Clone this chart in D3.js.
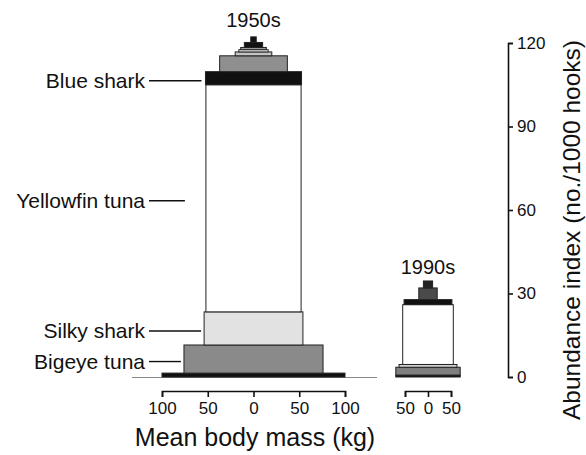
<!DOCTYPE html>
<html><head><meta charset="utf-8">
<script src="https://cdn.jsdelivr.net/npm/d3@7"></script>
<style>
body{margin:0;background:#fff}
svg{display:block}
text{font-family:"Liberation Sans",Arial,Helvetica,sans-serif;fill:#111}
</style>
</head><body>
<svg id="c" width="586" height="455"></svg>
<script>
// ---- data (layers listed bottom-up) ----
const decades = ["1950s","1990s"];
const layers1950 = ["Other A","Bigeye tuna","Silky shark","Yellowfin tuna","Blue shark","Other B","Other C","Other D","Other E","Other F","Other G"];
const abundance1950 = [1.4,10.1,11.9,81.6,4.7,5.7,1.4,0.8,0.8,1.8,2.0];
const mass1950 = [100,76,54,52,52.5,37,20,16,14,10,3];
const layers1990 = ["Other A","Bigeye tuna","Silky shark","Yellowfin tuna","Blue shark","Other B","Other F"];
const abundance1990 = [0.7,2.8,1.0,21.5,1.8,4.2,2.5];
const mass1990 = [70,70,63,55,52,20,10];
const labelled = ["Blue shark","Yellowfin tuna","Silky shark","Bigeye tuna"];
const yTicks = [0,30,60,90,120];
const xTicks1950 = [-100,-50,0,50,100];
const xTicks1990 = [-50,0,50];

// ---- styles ----
const fill1950 = ["#111","#8a8a8a","#e2e2e2","#fff","#111","#8f8f8f","#c4c4c4","#fff","#9a9a9a","#111","#111"];
const fill1990 = ["#111","#7f7f7f","#d0d0d0","#fff","#111","#4a4a4a","#222"];

const svg = d3.select("#c");
const y = d3.scaleLinear().domain([0,120]).range([377,43]);
const x1 = d3.scaleLinear().domain([-100,100]).range([162,345]);
const x2 = d3.scaleLinear().domain([-50,50]).range([405,451]);

function drawStack(xs, abund, mass, fills){
  const cum = Array.from(d3.cumsum(abund));
  const g = svg.append("g");
  g.selectAll("rect").data(abund).join("rect")
    .attr("x",(d,i)=>xs(-mass[i]))
    .attr("width",(d,i)=>xs(mass[i])-xs(-mass[i]))
    .attr("y",(d,i)=>y(cum[i]))
    .attr("height",(d,i)=>y(cum[i]-d)-y(cum[i]))
    .attr("fill",(d,i)=>fills[i])
    .attr("stroke","#222").attr("stroke-width",1);
  return cum;
}

// baseline
svg.append("line").attr("x1",132).attr("x2",377).attr("y1",y(0)+0.5).attr("y2",y(0)+0.5)
  .attr("stroke","#888").attr("stroke-width",1);

const cum1950 = drawStack(x1, abundance1950, mass1950, fill1950);
const cum1990 = drawStack(x2, abundance1990, mass1990, fill1990);

// decade labels
svg.append("text").attr("x",x1(0)).attr("y",y(cum1950[cum1950.length-1])-10)
  .attr("text-anchor","middle").attr("font-size",20).text(decades[0]);
svg.append("text").attr("x",x2(0)).attr("y",y(cum1990[cum1990.length-1])-7)
  .attr("text-anchor","middle").attr("font-size",20).text(decades[1]);

// species labels with leader lines
const gaps = {"Blue shark":4,"Yellowfin tuna":21,"Silky shark":3,"Bigeye tuna":3};
labelled.forEach(name=>{
  const i = layers1950.indexOf(name);
  const mid = y(cum1950[i]-abundance1950[i]/2)+2.5;
  const xe = x1(-mass1950[i]) - gaps[name];
  svg.append("line").attr("x1",149).attr("x2",xe).attr("y1",mid).attr("y2",mid)
    .attr("stroke","#111").attr("stroke-width",1.4);
  svg.append("text").attr("x",145).attr("y",mid).attr("dy","0.35em")
    .attr("text-anchor","end").attr("font-size",21).text(name);
});

// x axes
function xAxis(xs, ticks){
  const g = svg.append("g").attr("transform","translate(0,391)")
    .call(d3.axisBottom(xs).tickValues(ticks).tickSize(6).tickSizeOuter(6).tickFormat(d=>Math.abs(d)));
  g.select(".domain").attr("stroke","#111").attr("stroke-width",1.6);
  g.selectAll(".tick line").attr("stroke","#111").attr("stroke-width",1.6);
  g.selectAll(".tick text").attr("font-size",17).attr("font-family","Liberation Sans, Arial, sans-serif").attr("fill","#111").attr("y",11);
}
xAxis(x1, xTicks1950);
xAxis(x2, xTicks1990);

svg.append("text").attr("x",255).attr("y",446).attr("text-anchor","middle")
  .attr("font-size",25).text("Mean body mass (kg)");

// y axis
const gy = svg.append("g").attr("transform","translate(508,0)")
  .call(d3.axisRight(y).tickValues(yTicks).tickSize(5).tickSizeOuter(5));
gy.select(".domain").attr("stroke","#111").attr("stroke-width",1.6);
gy.selectAll(".tick line").attr("stroke","#111").attr("stroke-width",1.6);
gy.selectAll(".tick text").attr("font-size",17).attr("font-family","Liberation Sans, Arial, sans-serif").attr("fill","#111").attr("x",9);

svg.append("text").attr("transform","translate(580,230) rotate(-90)")
  .attr("text-anchor","middle").attr("font-size",24.5).text("Abundance index (no./1000 hooks)");
</script>
</body></html>
